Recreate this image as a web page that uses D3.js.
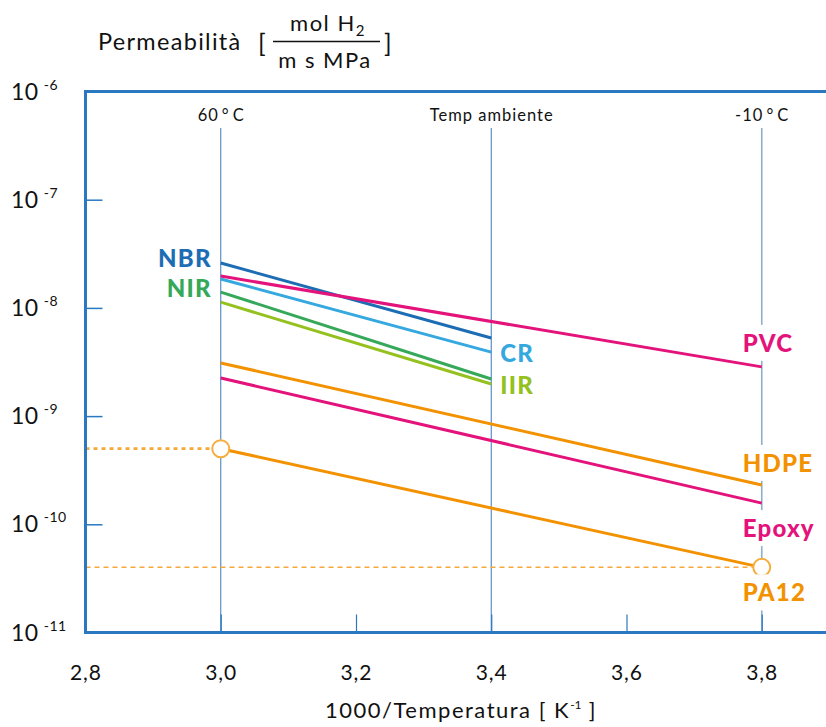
<!DOCTYPE html>
<html>
<head>
<meta charset="utf-8">
<script src="https://cdn.jsdelivr.net/npm/d3@7"></script>
<style>
  html, body { margin: 0; padding: 0; background: #fff; }
  svg { display: block; }
  text { font-family: Lato, "Noto Sans", sans-serif; }
</style>
</head>
<body>
<svg id="chart" width="826" height="727"></svg>
<script>
// ---------- data ----------
const xTickValues = [2.8, 3.0, 3.2, 3.4, 3.6, 3.8];
const yExponents = [-6, -7, -8, -9, -10, -11];
const refX = [3.0, 3.4, 3.8];
const refLabels = ["60\u2009°\u2009C", "Temp ambiente", "-10\u2009°\u2009C"];

const materials   = ["NBR", "CR", "PVC", "NIR", "IIR", "HDPE", "Epoxy", "PA12"];
const startX      = [3.0, 3.0, 3.0, 3.0, 3.0, 3.0, 3.0, 3.0];
const endX        = [3.4, 3.4, 3.8, 3.4, 3.4, 3.8, 3.8, 3.8];
const startValues = [2.6e-8, 1.85e-8, 1.97e-8, 1.40e-8, 1.13e-8, 3.1e-9, 2.25e-9, 5.0e-10];
const endValues   = [5.27e-9, 3.9e-9, 2.85e-9, 2.2e-9, 1.98e-9, 2.31e-10, 1.57e-10, 4.0e-11];
const colors      = ["#1d6db5", "#35a8e0", "#e3137b", "#36a85a", "#95c11f", "#f39200", "#e3137b", "#f39200"];

const refLevels   = [5.0e-10, 4.0e-11];   // dashed reference levels
const refLevelsX  = [3.0, 3.8];

// ---------- layout ----------
const svg = d3.select("#chart");
const mLeft = 85.5, mRight = 826, mTop = 91.5, mBottom = 632.5;
const pxPerUnit = (762 - 221) / 0.8;
const x = d3.scaleLinear().domain([2.8, 2.8 + (mRight - mLeft) / pxPerUnit]).range([mLeft, mRight]);
const y = d3.scaleLog().domain([1e-11, 1e-6]).range([mBottom, mTop]);

const axisBlue = "#2a78c0";

// reference vertical lines
refX.forEach((v, i) => {
  svg.append("line")
    .attr("x1", x(v)).attr("x2", x(v))
    .attr("y1", 128).attr("y2", mBottom)
    .attr("stroke", i === 2 ? "#8eaecb" : "#4a84c0")
    .attr("stroke-width", i === 2 ? 1.6 : 1.1);
  svg.append("text")
    .attr("x", x(v) + 0.5).attr("y", 121)
    .attr("text-anchor", "middle")
    .attr("font-size", 16.5)
    .attr("letter-spacing", 1)
    .attr("fill", "#111")
    .text(refLabels[i]);
});

// dashed reference levels
refLevels.forEach((v, i) => {
  svg.append("line")
    .attr("x1", mLeft).attr("x2", x(refLevelsX[i]) - 9)
    .attr("y1", y(v)).attr("y2", y(v))
    .attr("stroke", "#f4a93a")
    .attr("stroke-width", i === 0 ? 2.6 : 1.5)
    .attr("stroke-dasharray", i === 0 ? "4,4" : "5,4");
});

// material lines
const lineData = materials.map((m, i) => ({
  name: m, color: colors[i],
  pts: [[startX[i], startValues[i]], [endX[i], endValues[i]]]
}));
const line = d3.line().x(d => x(d[0])).y(d => y(d[1]));
const drawOrder = ["HDPE", "Epoxy", "PA12", "IIR", "NIR", "CR", "NBR", "PVC"];
drawOrder.forEach(name => {
  const d = lineData.find(l => l.name === name);
  svg.append("path")
    .attr("d", line(d.pts))
    .attr("fill", "none")
    .attr("stroke", d.color)
    .attr("stroke-width", 3);
});

// circles on PA12
const pa = lineData.find(l => l.name === "PA12");
pa.pts.forEach(p => {
  svg.append("circle")
    .attr("cx", x(p[0])).attr("cy", y(p[1])).attr("r", 8.5)
    .attr("fill", "#fff")
    .attr("stroke", "#f6ad3b")
    .attr("stroke-width", 2);
});

// material labels
const labelSpec = {
  NBR:   {end: 0, dx: -9, dy: -5, anchor: "end"},
  NIR:   {end: 0, dx: -9, dy: -4, anchor: "end"},
  CR:    {end: 1, dx: 9,  dy: 1,  anchor: "start"},
  IIR:   {end: 1, dx: 9,  dy: 1,  anchor: "start"},
  PVC:   {end: 1, dx: -19, dy: -24, anchor: "start"},
  HDPE:  {end: 1, dx: -19, dy: -22, anchor: "start"},
  Epoxy: {end: 1, dx: -19, dy: 25, anchor: "start"},
  PA12:  {end: 1, dx: -19, dy: 25, anchor: "start"}
};
lineData.forEach(d => {
  const s = labelSpec[d.name];
  const p = d.pts[s.end];
  const lx = x(p[0]) + s.dx, ly = y(p[1]) + s.dy;
  if (p[0] === 3.8) {
    svg.append("rect")
      .attr("x", x(p[0]) - 6).attr("y", ly - 18)
      .attr("width", 12).attr("height", 36)
      .attr("fill", "#fff");
  }
  svg.append("text")
    .attr("x", lx).attr("y", ly)
    .attr("dy", "0.36em")
    .attr("text-anchor", s.anchor)
    .attr("font-size", 24)
    .attr("letter-spacing", 1.2)
    .attr("font-weight", 900)
    .attr("fill", d.color)
    .text(d.name);
});

// axes frame
const xAxis = d3.axisBottom(x).tickValues(xTickValues).tickSize(-18).tickFormat("");
const gx = svg.append("g").attr("transform", `translate(0,${mBottom})`).call(xAxis);
gx.select(".domain").remove();
gx.selectAll(".tick line").attr("stroke", axisBlue).attr("stroke-width", 1.2);

const yAxis = d3.axisLeft(y).tickValues(yExponents.map(e => Math.pow(10, e))).tickSize(-17).tickFormat("");
const gy = svg.append("g").attr("transform", `translate(${mLeft},0)`).call(yAxis);
gy.select(".domain").remove();
gy.selectAll(".tick line").attr("stroke", axisBlue).attr("stroke-width", 1.5);

svg.append("path")
  .attr("d", `M${mRight},${mTop}H${mLeft}V${mBottom}H${mRight}`)
  .attr("fill", "none")
  .attr("stroke", axisBlue)
  .attr("stroke-width", 3);

// x tick labels
xTickValues.forEach(v => {
  svg.append("text")
    .attr("x", x(v) + 0.5).attr("y", 680)
    .attr("text-anchor", "middle")
    .attr("font-size", 21)
    .attr("letter-spacing", 1)
    .attr("fill", "#111")
    .text(d3.format(".1f")(v).replace(".", ","));
});

// y tick labels
yExponents.forEach(e => {
  const t = svg.append("text")
    .attr("x", 11).attr("y", y(Math.pow(10, e)) + 8)
    .attr("font-size", 23)
    .attr("letter-spacing", 0.5)
    .attr("fill", "#111");
  t.append("tspan").text("10");
  t.append("tspan").attr("dx", 5).attr("dy", -10).attr("font-size", 14).text(String(e));
});

// x axis title
const xt = svg.append("text")
  .attr("x", 461).attr("y", 718)
  .attr("text-anchor", "middle")
  .attr("font-size", 22)
  .attr("letter-spacing", 1.5)
  .attr("fill", "#111");
xt.append("tspan").text("1000/Temperatura [ K");
xt.append("tspan").attr("dy", -9).attr("font-size", 12).attr("letter-spacing", 0).text("-1");
xt.append("tspan").attr("dy", 9).text(" ]");

// y axis title with fraction
svg.append("text").attr("x", 98).attr("y", 50).attr("font-size", 23.5)
  .attr("letter-spacing", 1.3).attr("fill", "#111").text("Permeabilità");
svg.append("text").attr("x", 258).attr("y", 52).attr("font-size", 25).attr("fill", "#111").text("[");
svg.append("text").attr("x", 384).attr("y", 52).attr("font-size", 25).attr("fill", "#111").text("]");
const num = svg.append("text").attr("x", 328).attr("y", 31).attr("text-anchor", "middle")
  .attr("font-size", 22).attr("letter-spacing", 1.5).attr("fill", "#111");
num.append("tspan").text("mol H");
num.append("tspan").attr("dy", 5).attr("font-size", 15).text("2");
svg.append("line").attr("x1", 273).attr("x2", 380).attr("y1", 41.5).attr("y2", 41.5)
  .attr("stroke", "#111").attr("stroke-width", 1.5);
svg.append("text").attr("x", 325).attr("y", 68).attr("text-anchor", "middle")
  .attr("font-size", 22).attr("letter-spacing", 1.5).attr("fill", "#111").text("m s MPa");
</script>
</body>
</html>
